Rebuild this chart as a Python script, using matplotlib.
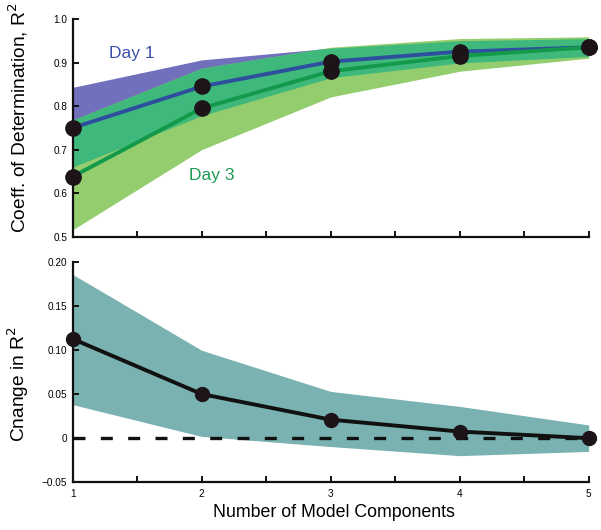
import numpy as np
import matplotlib
matplotlib.use("Agg")
import matplotlib.pyplot as plt

plt.rcParams['font.family'] = ['Liberation Sans', 'DejaVu Sans']

# Number of model components
components = [1, 2, 3, 4, 5]

# Top panel: coefficient of determination
day1_mean = [0.750, 0.845, 0.902, 0.925, 0.935]
day1_upper = [0.843, 0.906, 0.933, 0.950, 0.955]
day1_lower = [0.660, 0.778, 0.865, 0.899, 0.914]

day3_mean = [0.638, 0.795, 0.880, 0.915, 0.935]
day3_upper = [0.768, 0.887, 0.935, 0.955, 0.959]
day3_lower = [0.516, 0.700, 0.821, 0.880, 0.910]

# Bottom panel: change in R^2
delta_mean = [0.1125, 0.050, 0.021, 0.0075, 0.0]
delta_upper = [0.1856, 0.0996, 0.053, 0.036, 0.015]
delta_lower = [0.038, 0.002, -0.0095, -0.0198, -0.015]

top_yticks = [0.5, 0.6, 0.7, 0.8, 0.9, 1.0]
top_yticklabels = ['0.5', '0.6', '0.7', '0.8', '0.9', '1.0']
bot_yticks = [-0.05, 0, 0.05, 0.10, 0.15, 0.20]
bot_yticklabels = ['\u22120.05', '0', '0.05', '0.10', '0.15', '0.20']
xticks = [1, 1.5, 2, 2.5, 3, 3.5, 4, 4.5, 5]
xticklabels = ['1', '', '2', '', '3', '', '4', '', '5']

c_day1_band = '#7070bd'
c_day3_band = '#93cd6d'
c_overlap = '#3fb97b'
c_day1_line = '#2d4f9e'
c_day3_line = '#13994a'
c_delta_band = '#79b2b0'


def style_axes(ax):
    for side in ['top', 'right']:
        ax.spines[side].set_visible(False)
    for side in ['left', 'bottom']:
        ax.spines[side].set_linewidth(1.6)
        ax.spines[side].set_color('#111111')
    ax.tick_params(direction='in', length=4, width=1.4, labelsize=7.2,
                   color='#111111')
    ax.tick_params(axis='y', pad=4)
    ax.tick_params(axis='x', pad=5)
    ax.set_xlim(1, 5)
    ax.set_xticks(xticks)


fig = plt.figure(figsize=(6.01, 5.30), dpi=100)
ax1 = fig.add_axes([0.121, 0.5534, 0.8585, 0.4108])
ax2 = fig.add_axes([0.121, 0.0900, 0.8585, 0.4162])

# ---- top panel ----
x = np.array(components, dtype=float)
ax1.fill_between(x, day1_lower, day1_upper, color=c_day1_band, lw=0)
ax1.fill_between(x, day3_lower, day3_upper, color=c_day3_band, lw=0)

# Overlap of the two bands, on a fine grid so the crossings are exact
xf = np.linspace(1, 5, 400)
lo = np.maximum(np.interp(xf, x, day1_lower), np.interp(xf, x, day3_lower))
hi = np.minimum(np.interp(xf, x, day1_upper), np.interp(xf, x, day3_upper))
ax1.fill_between(xf, lo, hi, where=hi > lo, color=c_overlap, lw=0)

ax1.plot(x, day1_mean, color=c_day1_line, lw=2.8, zorder=3, clip_on=False)
ax1.plot(x, day3_mean, color=c_day3_line, lw=2.8, zorder=3, clip_on=False)
ax1.plot(x, day1_mean, 'o', color='#1c1418', ms=11, zorder=4, clip_on=False)
ax1.plot(x, day3_mean, 'o', color='#1c1418', ms=11, zorder=4, clip_on=False)

ax1.text(1.46, 0.921, 'Day 1', color='#3a4fa8', fontsize=12.5, ha='center',
         va='center')
ax1.text(2.08, 0.641, 'Day 3', color='#1f9a55', fontsize=12.5, ha='center',
         va='center')

style_axes(ax1)
ax1.set_ylim(0.5, 1.0)
ax1.set_yticks(top_yticks)
ax1.set_yticklabels(top_yticklabels)
ax1.set_xticklabels([])
ax1.set_ylabel('Coeff. of Determination, R$^2$', fontsize=13.8, va='center')
ax1.yaxis.set_label_coords(-0.106, 0.546)

# ---- bottom panel ----
ax2.fill_between(x, delta_lower, delta_upper, color=c_delta_band, lw=0)
ax2.axhline(0, color='#111111', lw=2.4, dashes=(3.6, 4.6), zorder=3)
ax2.plot(x, delta_mean, color='#111111', lw=2.8, zorder=4, clip_on=False)
ax2.plot(x, delta_mean, 'o', color='#1c1418', ms=10, zorder=5, clip_on=False)

style_axes(ax2)
ax2.set_ylim(-0.05, 0.20)
ax2.set_yticks(bot_yticks)
ax2.set_yticklabels(bot_yticklabels)
ax2.set_xticklabels(xticklabels)
ax2.set_ylabel('Cnange in R$^2$', fontsize=13.8, va='center')
ax2.yaxis.set_label_coords(-0.106, 0.443)
ax2.set_xlabel('Number of Model Components', fontsize=12.8)
ax2.xaxis.set_label_coords(0.507, -0.1)

fig.savefig('out.png', dpi=100)
